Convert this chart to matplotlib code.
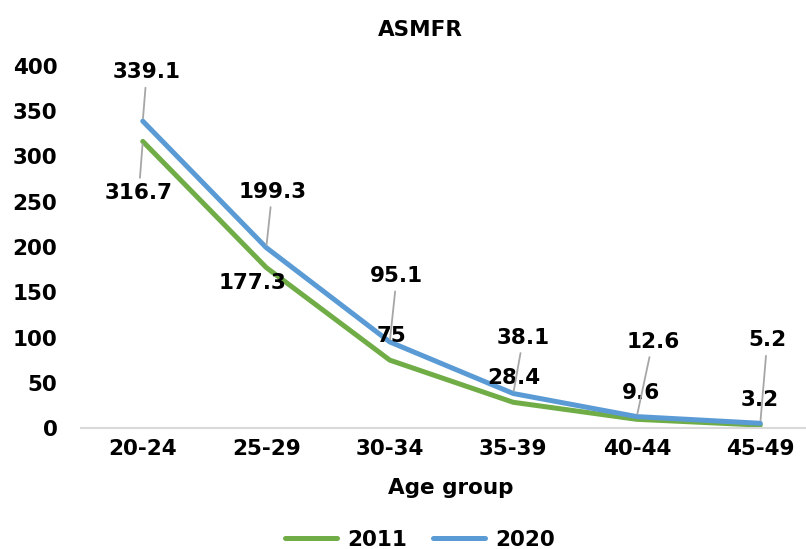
import matplotlib.pyplot as plt

# age-specific marital fertility rates
age_groups = ["20-24", "25-29", "30-34", "35-39", "40-44", "45-49"]
rate_2011 = [316.7, 177.3, 75, 28.4, 9.6, 3.2]
rate_2020 = [339.1, 199.3, 95.1, 38.1, 12.6, 5.2]

# label offsets in pixels (dx, dy) and whether a leader line is drawn
off_2011 = [(-4, -52), (-14, -15), (2, 24), (1, 24), (4, 26), (-1, 25)]
lead_2011 = [True, False, False, False, False, False]
off_2020 = [(4, 49), (6, 56), (7, 66), (10, 56), (16, 75), (7, 83)]

green = "#70AD47"
blue = "#5B9BD5"

fig = plt.figure(figsize=(8.06, 5.49), dpi=100)
ax = fig.add_axes([81 / 806, 121 / 549, 725 / 806, 362 / 549])

x = range(len(age_groups))
ax.plot(x, rate_2011, color=green, lw=3.6, label="2011", solid_capstyle="round", zorder=2)
ax.plot(x, rate_2020, color=blue, lw=3.6, label="2020", solid_capstyle="round", zorder=3)

font = dict(fontsize=15.5, fontweight="bold", color="black")


def put_labels(vals, offsets, leaders):
    for i, (v, (dx, dy), lead) in enumerate(zip(vals, offsets, leaders)):
        arrow = None
        if lead:
            arrow = dict(arrowstyle="-", color="#A6A6A6", lw=1.3, shrinkA=-2, shrinkB=2)
        ax.annotate(f"{v:g}", (i, v), xytext=(dx, dy), textcoords="offset pixels",
                    ha="center", va="center", arrowprops=arrow, zorder=5, **font)


put_labels(rate_2011, off_2011, lead_2011)
put_labels(rate_2020, off_2020, [True] * 6)

ax.set_xlim(-0.5, 5.37)
ax.set_ylim(0, 400)
ax.set_yticks(range(0, 401, 50))
ax.set_xticks(list(x))
ax.set_xticklabels(age_groups)
ax.tick_params(length=0, labelsize=15.5, pad=8)
for lab in ax.get_xticklabels() + ax.get_yticklabels():
    lab.set_fontweight("bold")
ax.tick_params(axis="y", pad=17)

for s in ["top", "right", "left"]:
    ax.spines[s].set_visible(False)
ax.spines["bottom"].set_color("#D9D9D9")
ax.spines["bottom"].set_linewidth(1.5)

fig.text(420 / 806, 1 - 30 / 549, "ASMFR", ha="center", va="center", **font)
fig.text(451 / 806, 1 - 488 / 549, "Age group", ha="center", va="center", **font)

fig.legend(loc="center", bbox_to_anchor=(420 / 806, 1 - 540 / 549), ncol=2, frameon=False,
           prop=dict(size=15.5, weight="bold"), handlelength=2.4, columnspacing=1.2,
           handletextpad=0.5)

fig.savefig("out.png", dpi=100)
